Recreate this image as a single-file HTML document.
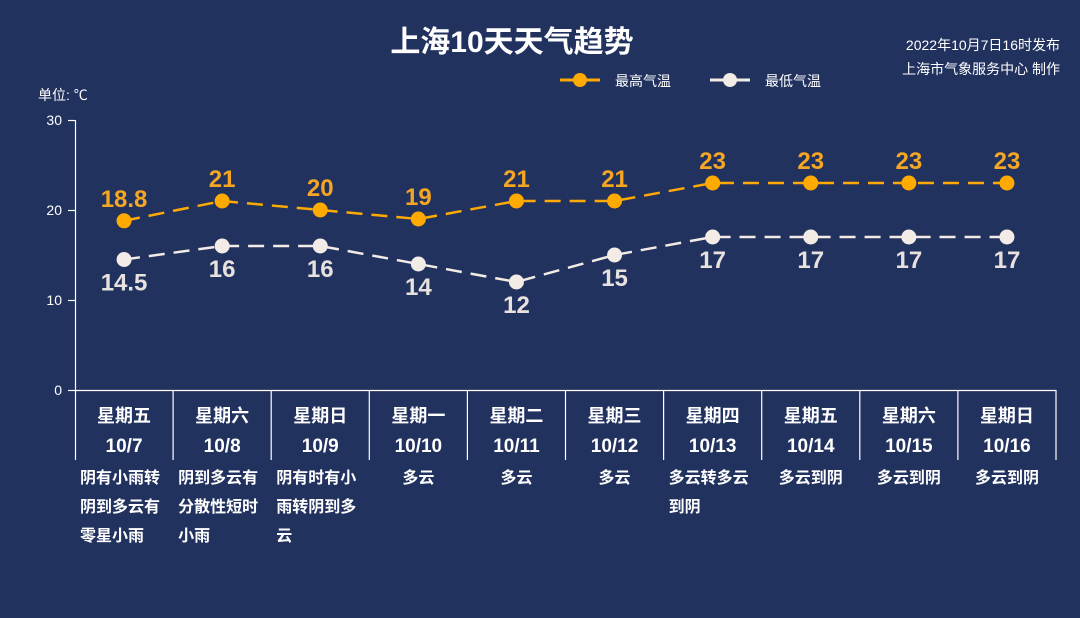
<!DOCTYPE html>
<html><head><meta charset="utf-8"><style>
html,body{margin:0;padding:0;background:#22325f;}
body{width:1080px;height:613px;overflow:hidden;font-family:"Liberation Sans","Noto Sans CJK SC",sans-serif;}
</style></head><body>
<svg width="1080" height="613" xmlns="http://www.w3.org/2000/svg" font-family="Liberation Sans, Noto Sans CJK SC, sans-serif">
<rect width="1080" height="613" fill="#22325f"/>
<text x="512" y="52" text-anchor="middle" fill="#fff" font-size="30" font-weight="bold">上海10天天气趋势</text>
<text x="1060" y="50" text-anchor="end" fill="#fff" font-size="14">2022年10月7日16时发布</text>
<text x="1060" y="74" text-anchor="end" fill="#fff" font-size="14">上海市气象服务中心 制作</text>
<text x="38" y="100" fill="#fff" font-size="14">单位: ℃</text>
<g>
<line x1="560" y1="80" x2="600" y2="80" stroke="#ffaa00" stroke-width="3"/><circle cx="580" cy="80" r="7" fill="#ffaa00"/>
<text x="615" y="86" fill="#fff" font-size="14">最高气温</text>
<line x1="710" y1="80" x2="750" y2="80" stroke="#f3ece6" stroke-width="3"/><circle cx="730" cy="80" r="7" fill="#f3ece6"/>
<text x="765" y="86" fill="#fff" font-size="14">最低气温</text>
</g>
<g stroke="#fff" stroke-width="1.2">
<line x1="75.5" y1="120" x2="75.5" y2="460"/>
<line x1="68" y1="120.5" x2="75" y2="120.5"/><line x1="68" y1="210.5" x2="75" y2="210.5"/><line x1="68" y1="300.5" x2="75" y2="300.5"/><line x1="68" y1="390.5" x2="75" y2="390.5"/>
<line x1="75" y1="390.5" x2="1056" y2="390.5"/>
</g>
<g fill="#fff" font-size="14" text-anchor="end">
<text x="62" y="125">30</text><text x="62" y="215">20</text><text x="62" y="305">10</text><text x="62" y="395">0</text>
</g>
<g id="cols"></g>
<polyline id="hi" fill="none" stroke="#ffaa00" stroke-width="2.5" stroke-dasharray="16,9"/>
<polyline id="lo" fill="none" stroke="#f3ece6" stroke-width="2.5" stroke-dasharray="16,9"/>
<g id="pts"></g>
</svg>
<script>
var hi=[18.8,21,20,19,21,21,23,23,23,23],lo=[14.5,16,16,14,12,15,17,17,17,17];
var wk=["星期五","星期六","星期日","星期一","星期二","星期三","星期四","星期五","星期六","星期日"];
var dt=["10/7","10/8","10/9","10/10","10/11","10/12","10/13","10/14","10/15","10/16"];
var ds=[["阴有小雨转","阴到多云有","零星小雨"],["阴到多云有","分散性短时","小雨"],["阴有时有小","雨转阴到多","云"],["多云"],["多云"],["多云"],["多云转多云","到阴"],["多云到阴"],["多云到阴"],["多云到阴"]];
var w=98.1,s="",p="",hp=[],lp=[];
for(var i=0;i<10;i++){var cx=75+w*i+w/2,x2=75+w*(i+1);
s+='<line x1="'+x2+'" y1="390" x2="'+x2+'" y2="460" stroke="#fff" stroke-width="1.2"/>';
s+='<text x="'+cx+'" y="422" text-anchor="middle" fill="#fff" font-size="18" font-weight="bold">'+wk[i]+'</text>';
s+='<text x="'+cx+'" y="452" text-anchor="middle" fill="#fff" font-size="19" font-weight="bold">'+dt[i]+'</text>';
for(var j=0;j<ds[i].length;j++){var t=ds[i][j];var anc=ds[i].length>1?'start':'middle';var xx=ds[i].length>1?(75+w*i+5):cx;
s+='<text x="'+xx+'" y="'+(483+j*29)+'" text-anchor="'+anc+'" fill="#fff" font-size="16" font-weight="bold">'+t+'</text>';}
var yh=390-hi[i]*9,yl=390-lo[i]*9;hp.push(cx+","+yh);lp.push(cx+","+yl);
p+='<circle cx="'+cx+'" cy="'+yh+'" r="7.5" fill="#ffaa00"/><circle cx="'+cx+'" cy="'+yl+'" r="7.5" fill="#f3ece6"/>';
p+='<text x="'+cx+'" y="'+(yh-14)+'" text-anchor="middle" fill="#f5a623" font-size="24" font-weight="bold">'+hi[i]+'</text>';
p+='<text x="'+cx+'" y="'+(yl+31)+'" text-anchor="middle" fill="#e8e2de" font-size="24" font-weight="bold">'+lo[i]+'</text>';}
document.getElementById("cols").innerHTML=s;document.getElementById("pts").innerHTML=p;
document.getElementById("hi").setAttribute("points",hp.join(" "));document.getElementById("lo").setAttribute("points",lp.join(" "));
</script>
</body></html>
